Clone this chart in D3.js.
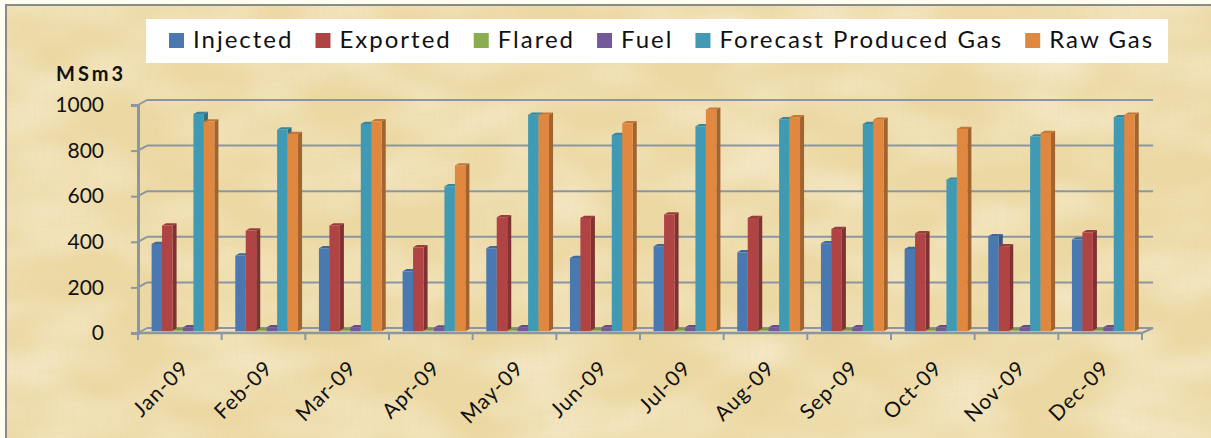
<!DOCTYPE html>
<html>
<head>
<meta charset="utf-8">
<script src="https://cdn.jsdelivr.net/npm/d3@7"></script>
<style>
  html, body { margin: 0; padding: 0; background: #fffdf0; }
  svg { display: block; }
  text { font-family: Lato, "Open Sans", sans-serif; fill: #111; }
</style>
</head>
<body>
<div id="chart"></div>
<script>
// monthly gas figures, MSm3
const months = ['Jan-09', 'Feb-09', 'Mar-09', 'Apr-09', 'May-09', 'Jun-09',
                'Jul-09', 'Aug-09', 'Sep-09', 'Oct-09', 'Nov-09', 'Dec-09'];
const injected  = [383, 332, 364, 263, 364, 321, 373, 346, 386, 361, 417, 402];
const exported  = [464, 442, 464, 368, 500, 497, 512, 497, 449, 430, 373, 434];
const flared    = [3, 3, 3, 3, 3, 3, 3, 3, 3, 3, 3, 3];
const fuel      = [17, 17, 17, 16, 17, 17, 17, 17, 17, 17, 17, 17];
const forecast  = [953, 885, 909, 636, 950, 861, 899, 930, 909, 665, 854, 939];
const rawGas    = [920, 865, 921, 727, 950, 912, 972, 939, 928, 887, 870, 950];

const seriesNames  = ['Injected', 'Exported', 'Flared', 'Fuel', 'Forecast Produced Gas', 'Raw Gas'];
const seriesValues = [injected, exported, flared, fuel, forecast, rawGas];
const seriesColors = ['#4a78b0', '#b04444', '#8cac50', '#74599a', '#409ab4', '#e08840'];
const yTicks = [0, 200, 400, 600, 800, 1000];

const width = 1211, height = 438;
// 3d depth offset of the back wall
const depthX = 9, depthY = -5;

const svg = d3.select('#chart').append('svg')
  .attr('width', width)
  .attr('height', height);

// paper texture
const defs = svg.append('defs');
const f1 = defs.append('filter').attr('id', 'fibres')
  .attr('x', 0).attr('y', 0).attr('width', '100%').attr('height', '100%');
f1.append('feTurbulence').attr('type', 'fractalNoise')
  .attr('baseFrequency', '0.01 0.02').attr('numOctaves', 2).attr('seed', 7);
f1.append('feColorMatrix').attr('type', 'matrix')
  .attr('values', '0 0 0 0 0.98  0 0 0 0 0.94  0 0 0 0 0.82  1.0 0 0 0 -0.35');
const f2 = defs.append('filter').attr('id', 'grain')
  .attr('x', 0).attr('y', 0).attr('width', '100%').attr('height', '100%');
f2.append('feTurbulence').attr('type', 'fractalNoise')
  .attr('baseFrequency', '0.5 0.03').attr('numOctaves', 2).attr('seed', 3);
f2.append('feColorMatrix').attr('type', 'matrix')
  .attr('values', '0 0 0 0 0.78  0 0 0 0 0.66  0 0 0 0 0.40  0 1.2 0 0 -0.55');
const f3 = defs.append('filter').attr('id', 'grain2')
  .attr('x', 0).attr('y', 0).attr('width', '100%').attr('height', '100%');
f3.append('feTurbulence').attr('type', 'fractalNoise')
  .attr('baseFrequency', '0.03 0.5').attr('numOctaves', 2).attr('seed', 11);
f3.append('feColorMatrix').attr('type', 'matrix')
  .attr('values', '0 0 0 0 0.78  0 0 0 0 0.66  0 0 0 0 0.40  0 1.2 0 0 -0.55');

svg.append('rect')
  .attr('width', width).attr('height', height)
  .attr('fill', '#fffdf0');
svg.append('rect')
  .attr('x', 6).attr('y', 5)
  .attr('width', width + 10).attr('height', height + 10)
  .attr('fill', '#ecd8a2')
  .attr('stroke', '#8a8a8a').attr('stroke-width', 2);
svg.append('rect')
  .attr('x', 7).attr('y', 6).attr('width', width).attr('height', height)
  .attr('filter', 'url(#fibres)');
svg.append('rect')
  .attr('x', 7).attr('y', 6).attr('width', width).attr('height', height)
  .attr('filter', 'url(#grain)').attr('opacity', 0.35);
svg.append('rect')
  .attr('x', 7).attr('y', 6).attr('width', width).attr('height', height)
  .attr('filter', 'url(#grain2)').attr('opacity', 0.35);

// scales
const x0 = d3.scaleBand().domain(months).range([138, 1142]).padding(0);
const x1 = d3.scaleBand().domain(seriesNames).range([0, x0.bandwidth()]).paddingOuter(1);
const y = d3.scaleLinear().domain([0, 1000]).range([333, 105]);
const color = d3.scaleOrdinal().domain(seriesNames).range(seriesColors);

const axisColor = '#8c96a2';

// back wall gridlines + diagonal connectors
const grid = svg.append('g');
yTicks.forEach(t => {
  grid.append('line')
    .attr('x1', x0.range()[0] + depthX).attr('x2', x0.range()[1] + depthX + 2)
    .attr('y1', y(t) + depthY).attr('y2', y(t) + depthY)
    .attr('stroke', axisColor).attr('stroke-width', 2);
  grid.append('line')
    .attr('x1', x0.range()[0]).attr('x2', x0.range()[0] + depthX)
    .attr('y1', y(t)).attr('y2', y(t) + depthY)
    .attr('stroke', axisColor).attr('stroke-width', 2);
});
// floor front edge and right edge
grid.append('line')
  .attr('x1', x0.range()[0]).attr('x2', x0.range()[1])
  .attr('y1', y(0)).attr('y2', y(0))
  .attr('stroke', axisColor).attr('stroke-width', 2.5);
grid.append('line')
  .attr('x1', x0.range()[1]).attr('x2', x0.range()[1] + depthX + 2)
  .attr('y1', y(0)).attr('y2', y(0) + depthY)
  .attr('stroke', axisColor).attr('stroke-width', 2);

// y axis
const yAxis = svg.append('g')
  .attr('transform', `translate(${x0.range()[0]},0)`)
  .call(d3.axisLeft(y).tickValues(yTicks).tickFormat(d3.format('d')).tickSize(7).tickPadding(27));
yAxis.select('.domain').attr('stroke', axisColor).attr('stroke-width', 3);
yAxis.selectAll('.tick line').attr('stroke', axisColor).attr('stroke-width', 2);
yAxis.selectAll('.tick text')
  .style('font-family', 'Lato, sans-serif').style('font-size', '21px')
  .attr('fill', '#111');

// x axis ticks at category boundaries
const xAxis = svg.append('g')
  .attr('transform', `translate(0,${y(0)})`)
  .call(d3.axisBottom(x0).tickSize(0).tickFormat(''));
xAxis.select('.domain').remove();
const bounds = months.map(m => x0(m)).concat([x0.range()[1]]);
xAxis.selectAll('.bound').data(bounds).enter().append('line')
  .attr('x1', d => d).attr('x2', d => d)
  .attr('y1', 0).attr('y2', 7)
  .attr('stroke', axisColor).attr('stroke-width', 2);

// month labels rotated
svg.append('g').selectAll('text')
  .data(months).enter().append('text')
  .attr('transform', d => `translate(${x0(d) + x0.bandwidth() / 2},${y(0) + 26}) rotate(-45)`)
  .attr('text-anchor', 'end')
  .attr('dy', '0.7em')
  .style('font-size', '21px')
  .style('letter-spacing', '1px')
  .text(d => d);

// unit title
svg.append('text')
  .attr('x', 56).attr('y', 81)
  .style('font-size', '20px').style('font-weight', 'bold')
  .style('letter-spacing', '3px')
  .text('MSm3');

// 3d bars
const frontT = 0.35, depthT = 0.45;
const barW = x1.bandwidth();
const cats = svg.append('g');
months.forEach((m, i) => {
  const g = cats.append('g');
  seriesNames.forEach((s, j) => {
    const v = seriesValues[j][i];
    const c = d3.color(color(s));
    const xl = x0(m) + x1(s) + depthX * frontT;
    const xr = xl + barW;
    const yb = y(0) + depthY * frontT;
    const yt = y(v) + depthY * frontT;
    const dx = depthX * depthT, dy = depthY * depthT;
    // side
    g.append('polygon')
      .attr('points', [[xr, yt], [xr + dx, yt + dy], [xr + dx, yb + dy], [xr, yb]].join(' '))
      .attr('fill', c.darker(0.9));
    // top
    g.append('polygon')
      .attr('points', [[xl, yt], [xl + dx, yt + dy], [xr + dx, yt + dy], [xr, yt]].join(' '))
      .attr('fill', c.darker(0.4));
    // front
    g.append('rect')
      .attr('x', xl).attr('y', yt)
      .attr('width', barW).attr('height', yb - yt)
      .attr('fill', c);
  });
});

// legend
const legend = svg.append('g');
legend.append('rect')
  .attr('x', 146).attr('y', 19).attr('width', 1022).attr('height', 44)
  .attr('fill', '#fff');
let lx = 169;
seriesNames.forEach(s => {
  legend.append('rect')
    .attr('x', lx).attr('y', 33).attr('width', 15).attr('height', 15)
    .attr('fill', color(s));
  const t = legend.append('text')
    .attr('x', lx + 24).attr('y', 48)
    .style('font-size', '24px')
    .style('letter-spacing', '2px')
    .text(s);
  lx += 24 + t.node().getComputedTextLength() + 22;
});
</script>
</body>
</html>
